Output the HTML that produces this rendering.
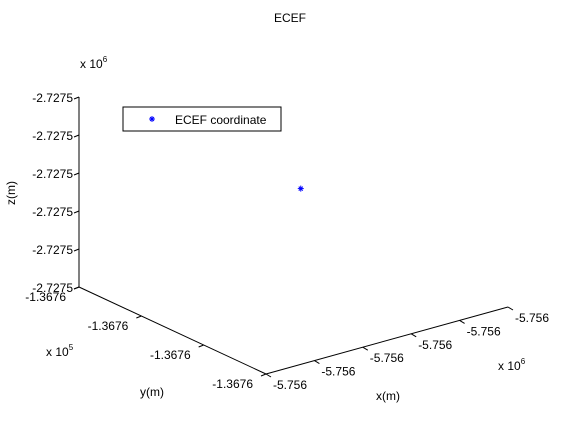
<!DOCTYPE html>
<html><head><meta charset="utf-8"><style>
body{margin:0;background:#fff;}
svg text{font-family:"Liberation Sans",Arial,sans-serif;font-size:12px;fill:#000;}
</style></head><body>
<svg id="chart" width="561" height="420" viewBox="0 0 561 420" xmlns="http://www.w3.org/2000/svg">
<rect width="561" height="420" fill="#fff"/>
<text x="290" y="22" text-anchor="middle">ECEF</text>
<text x="80" y="68">x 10<tspan dy="-6" font-size="8">6</tspan></text>
<text transform="translate(15,193) rotate(-90)" text-anchor="middle">z(m)</text>
<text x="46" y="356">x 10<tspan dy="-6" font-size="8">5</tspan></text>
<text x="152" y="396" text-anchor="middle">y(m)</text>
<text x="388" y="400" text-anchor="middle">x(m)</text>
<text x="498" y="370">x 10<tspan dy="-6" font-size="8">6</tspan></text>
<g id="axes"></g>
<g id="marks"></g>
<g>
<rect x="123" y="107" width="158" height="24" fill="#fff" stroke="#000" stroke-width="1"/>
<g stroke="#0000ff" stroke-width="1">
<line x1="149" y1="119" x2="155" y2="119"/><line x1="152" y1="116" x2="152" y2="122"/>
<line x1="150" y1="117" x2="154" y2="121"/><line x1="154" y1="117" x2="150" y2="121"/>
</g>
<text x="175" y="124">ECEF coordinate</text>
</g>
</svg>
<script>
const xTicks=[-5756010,-5756008,-5756006,-5756004,-5756002,-5756000];
const yTicks=[-136760,-136759,-136758,-136757];
const zTicks=[-2727510,-2727508,-2727506,-2727504,-2727502,-2727500];
const xLabels=["-5.756","-5.756","-5.756","-5.756","-5.756","-5.756"];
const yLabels=["-1.3676","-1.3676","-1.3676","-1.3676"];
const zLabels=["-2.7275","-2.7275","-2.7275","-2.7275","-2.7275","-2.7275"];
const pointX=[-5756004.7];
const pointY=[-136758.5];
const pointZ=[-2727504.4];
const NS="http://www.w3.org/2000/svg";
const O=[79,287],EX=[242,-67],EY=[187,87],EZ=[0,-190];
function nx(v){return (v-xTicks[0])/(xTicks[xTicks.length-1]-xTicks[0]);}
function ny(v){return (v-yTicks[0])/(yTicks[yTicks.length-1]-yTicks[0]);}
function nz(v){return (v-zTicks[0])/(zTicks[zTicks.length-1]-zTicks[0]);}
function proj(u,v,w){return [O[0]+u*EX[0]+v*EY[0]+w*EZ[0],O[1]+u*EX[1]+v*EY[1]+w*EZ[1]];}
const axes=document.getElementById('axes');
function line(parent,a,b,name,color){const l=document.createElementNS(NS,'line');
l.setAttribute('x1',a[0]);l.setAttribute('y1',a[1]);l.setAttribute('x2',b[0]);l.setAttribute('y2',b[1]);
l.setAttribute('stroke',color||'#000');l.setAttribute('stroke-width','1');


parent.appendChild(l);}
function txt(x,y,s,anchor,name){const t=document.createElementNS(NS,'text');
t.setAttribute('x',x);t.setAttribute('y',y);t.setAttribute('text-anchor',anchor);t.textContent=s;


axes.appendChild(t);}
line(axes,proj(0,0,0),proj(0,0,1),'z-axis-line');
line(axes,proj(0,0,0),proj(0,1,0),'y-axis-line');
line(axes,proj(0,1,0),proj(1,1,0),'x-axis-line');
zTicks.forEach((v,i)=>{const p=proj(0,0,nz(v));line(axes,p,[p[0]-5,p[1]+2],'z-tick');txt(p[0]-6,p[1]+5,zLabels[i],'end','z-tick-label');});
yTicks.forEach((v,i)=>{const p=proj(0,ny(v),0);line(axes,p,[p[0]-5,p[1]+2],'y-tick');txt(p[0]-13,p[1]+14,yLabels[i],'end','y-tick-label');});
xTicks.forEach((v,i)=>{const p=proj(nx(v),1,0);line(axes,p,[p[0]+5,p[1]+3],'x-tick');txt(p[0]+7,p[1]+15,xLabels[i],'start','x-tick-label');});
const marks=document.getElementById('marks');
pointX.forEach((v,i)=>{const p=proj(nx(v),ny(pointY[i]),nz(pointZ[i]));
const g=document.createElementNS(NS,'g');


line(g,[p[0]-3,p[1]],[p[0]+3,p[1]],'point-stroke','#0000ff');
line(g,[p[0],p[1]-3],[p[0],p[1]+3],'point-stroke','#0000ff');
line(g,[p[0]-2,p[1]-2],[p[0]+2,p[1]+2],'point-stroke','#0000ff');
line(g,[p[0]+2,p[1]-2],[p[0]-2,p[1]+2],'point-stroke','#0000ff');
marks.appendChild(g);});
</script>
</body></html>
